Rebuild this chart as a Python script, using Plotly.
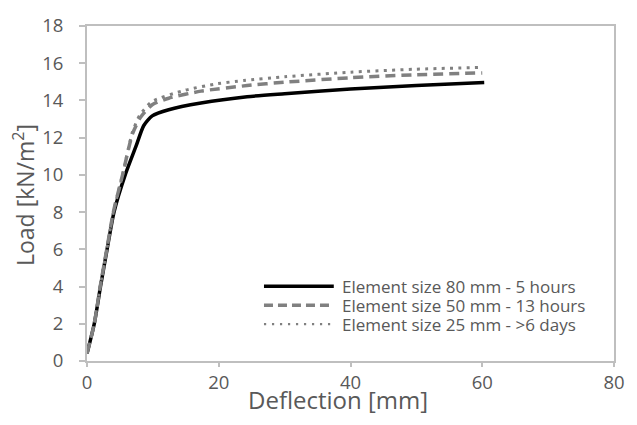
import plotly.graph_objects as go

# Load-deflection curves for three mesh element sizes
defl_80 = [0, 1.1, 2.05, 3.05, 4.1, 5.8, 7.4, 8.6, 9.9, 12.4, 17.3, 24.3, 30, 40, 50, 60.3]
load_80 = [0.4, 2, 4, 6, 8, 10, 11.5, 12.64, 13.17, 13.5, 13.86, 14.2, 14.36, 14.62, 14.8, 14.96]

defl_50 = [0, 1.1, 2.0, 3.0, 4.0, 5.4, 6.9, 8.1, 9.9, 12.4, 17.3, 24.3, 30, 40, 50, 60.0]
load_50 = [0.4, 2, 4, 6, 8, 10, 12.2, 13.08, 13.77, 14.12, 14.5, 14.8, 14.98, 15.22, 15.38, 15.48]

defl_25 = [0, 1.1, 2.0, 3.0, 4.0, 5.4, 6.9, 8.0, 9.9, 14.9, 19.8, 23.8, 30, 40, 50, 59.6]
load_25 = [0.4, 2, 4, 6, 8, 10, 12.3, 13.2, 13.95, 14.55, 14.9, 15.07, 15.27, 15.52, 15.68, 15.77]

names = [
    "Element size 80 mm - 5 hours",
    "Element size 50 mm - 13 hours",
    "Element size 25 mm - >6 days",
]

x_ticks = [0, 20, 40, 60, 80]
y_ticks = [0, 2, 4, 6, 8, 10, 12, 14, 16, 18]

W, H = 637, 425
ML, MR, MT, MB = 87, 14, 16, 64

FONT = "'Open Sans', sans-serif"
TXT = "#595959"
AX = "#BFBFBF"

styles = [
    dict(color="black", width=3.5, dash="solid"),
    dict(color="#808080", width=3.5, dash="10px,6px"),
    dict(color="#808080", width=3, dash="3px,5.3px"),
]
legend_dash = ["solid", "9px,5px", "2.2px,5.8px"]
legend_width = [3.5, 3.5, 2.2]

fig = go.Figure()
for xs, ys, nm, st in zip([defl_80, defl_50, defl_25], [load_80, load_50, load_25], names, styles):
    fig.add_trace(go.Scatter(x=xs, y=ys, mode="lines", name=nm,
                             line=dict(shape="spline", smoothing=0.6, **st),
                             showlegend=False))

# Paper-coordinate helpers (pixel -> paper fraction)
pw, ph = W - ML - MR, H - MT - MB


def px_x(p):
    return (p - ML) / pw


def px_y(p):
    return (H - MB - p) / ph


# Legend: line samples with labels
leg_rows = [284, 303.5, 323]
for nm, st, ry, ld, lw in zip(names, styles, leg_rows, legend_dash, legend_width):
    fig.add_shape(type="line", xref="paper", yref="paper",
                  x0=px_x(267), x1=px_x(338), y0=px_y(ry), y1=px_y(ry),
                  line=dict(color=st["color"], width=lw, dash=ld))
    fig.add_annotation(xref="paper", yref="paper", x=px_x(344), y=px_y(ry),
                       xanchor="left", yanchor="middle", showarrow=False,
                       text=nm, font=dict(family=FONT, size=17, color=TXT))

# Axis titles
fig.add_annotation(xref="paper", yref="paper", x=px_x(342), y=px_y(401),
                   xanchor="center", yanchor="middle", showarrow=False,
                   text="Deflection [mm]", font=dict(family=FONT, size=24, color=TXT))
fig.add_annotation(xref="paper", yref="paper", x=px_x(23), y=px_y(190),
                   xanchor="center", yanchor="middle", showarrow=False, textangle=-90,
                   text="Load [kN/m<sup>2</sup>]", font=dict(family=FONT, size=23, color=TXT))

axis_common = dict(showline=True, linecolor=AX, linewidth=2, mirror=True,
                   ticks="outside", ticklen=6, tickcolor=AX, tickwidth=1.5,
                   showgrid=False, zeroline=False,
                   tickfont=dict(family=FONT, size=18.5, color=TXT))

fig.update_layout(
    width=W, height=H,
    margin=dict(l=ML, r=MR, t=MT, b=MB),
    paper_bgcolor="white", plot_bgcolor="white",
    xaxis=dict(range=[0, 80], tickvals=x_ticks, **axis_common),
    yaxis=dict(range=[0, 18], tickvals=y_ticks, ticklabelstandoff=12, **axis_common),
)
fig.update_xaxes(ticklen=4)

fig.write_html("out.html")
